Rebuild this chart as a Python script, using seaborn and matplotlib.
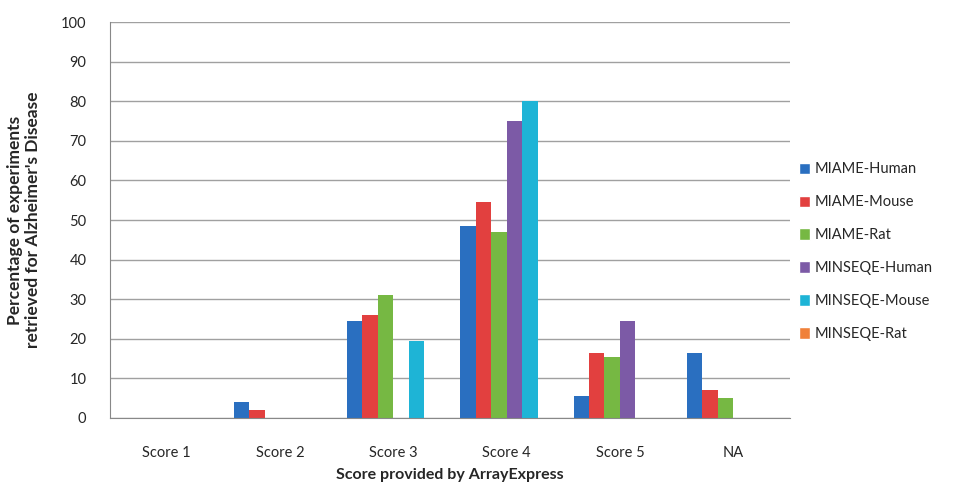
import matplotlib
matplotlib.use('Agg')
import matplotlib.pyplot as plt
import seaborn as sns
import pandas as pd
from matplotlib.patches import Patch

categories = ['Score 1', 'Score 2', 'Score 3', 'Score 4', 'Score 5', 'NA']
series = ['MIAME-Human', 'MIAME-Mouse', 'MIAME-Rat',
          'MINSEQE-Human', 'MINSEQE-Mouse', 'MINSEQE-Rat']
miame_human = [0, 4, 24.5, 48.5, 5.5, 16.5]
miame_mouse = [0, 2, 26, 54.5, 16.5, 7]
miame_rat = [0, 0, 31, 47, 15.5, 5]
minseqe_human = [0, 0, 0, 75, 24.5, 0]
minseqe_mouse = [0, 0, 19.5, 80, 0, 0]
minseqe_rat = [0, 0, 0, 0, 0, 0]
colors = ['#2a6fc0', '#e2403f', '#76b843', '#7c5aa6', '#1eb4d6', '#f0813a']

values = [miame_human, miame_mouse, miame_rat,
          minseqe_human, minseqe_mouse, minseqe_rat]
rows = []
for s, vals in zip(series, values):
    for c, v in zip(categories, vals):
        rows.append({'score': c, 'series': s, 'pct': v})
df = pd.DataFrame(rows)

sns.set_style('white')
plt.rcParams['font.family'] = ['Lato', 'DejaVu Sans']

fig = plt.figure(figsize=(9.7, 4.82), dpi=100)
ax = fig.add_axes([0.1134, 0.1328, 0.701, 0.8212])

sns.barplot(data=df, x='score', y='pct', hue='series', order=categories,
            hue_order=series, palette=colors, width=0.82, ax=ax,
            legend=False, saturation=1, edgecolor='none')

ax.set_ylim(0, 100)
ax.set_xlim(-0.5, len(categories) - 0.5)
ax.set_yticks(range(0, 101, 10))
ax.yaxis.grid(True, color='#a0a0a0', linewidth=1)
ax.set_axisbelow(True)
for side in ['top', 'right']:
    ax.spines[side].set_visible(False)
for side in ['left', 'bottom']:
    ax.spines[side].set_color('#888888')

ax.set_xticks(range(len(categories)))
ax.set_xticklabels(categories, fontsize=10.5)
ax.tick_params(axis='x', length=0, pad=20)
ax.set_xticks([i - 0.5 for i in range(len(categories) + 1)], minor=True)
ax.tick_params(axis='x', which='minor', length=5, color='#888888', direction='out')
ax.tick_params(axis='y', labelsize=10.5, length=5, color='#888888', pad=12)

ax.set_xlabel('Score provided by ArrayExpress', fontsize=11.5, fontweight='bold', labelpad=6)
ax.set_ylabel("Percentage of experiments\nretrieved for Alzheimer's Disease",
              fontsize=12.5, fontweight='bold', labelpad=14)

handles = [Patch(facecolor=c, label=s) for c, s in zip(colors, series)]
fig.legend(handles=handles, loc='center left', bbox_to_anchor=(0.81, 0.478),
           frameon=False, fontsize=10.5, handlelength=0.8, handleheight=0.8,
           handletextpad=0.3, labelspacing=1.3)

fig.savefig('out.png', dpi=100)
